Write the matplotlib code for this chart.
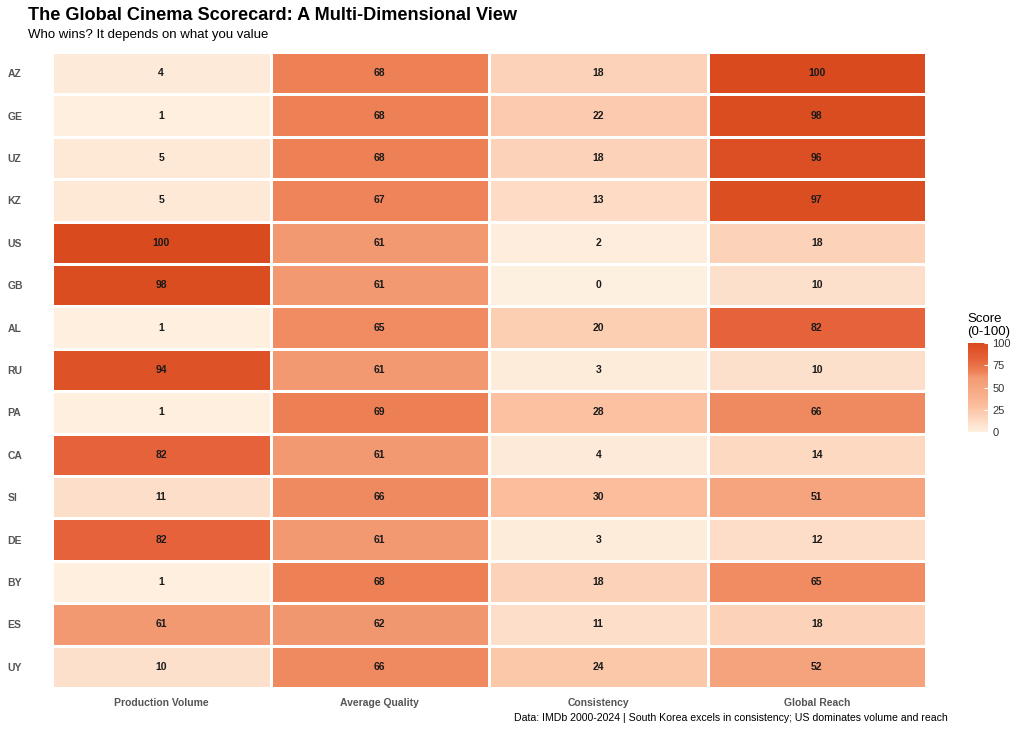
import numpy as np
import matplotlib.pyplot as plt
from matplotlib.colors import LinearSegmentedColormap

plt.rcParams['font.family'] = ['Liberation Sans', 'DejaVu Sans']

countries = ["AZ", "GE", "UZ", "KZ", "US", "GB", "AL", "RU", "PA", "CA", "SI", "DE", "BY", "ES", "UY"]
metrics = ["Production Volume", "Average Quality", "Consistency", "Global Reach"]
production = [4, 1, 5, 5, 100, 98, 1, 94, 1, 82, 11, 82, 1, 61, 10]
quality = [68, 68, 68, 67, 61, 61, 65, 61, 69, 61, 66, 61, 68, 62, 66]
consistency = [18, 22, 18, 13, 2, 0, 20, 3, 28, 4, 30, 3, 18, 11, 24]
reach = [100, 98, 96, 97, 18, 10, 82, 10, 66, 14, 51, 12, 65, 18, 52]

scores = np.array([production, quality, consistency, reach]).T

cmap = LinearSegmentedColormap.from_list("score", [
    (0.00, "#FEF0E0"), (0.10, "#FDE0CB"), (0.30, "#FBBD9C"), (0.51, "#F5A47E"),
    (0.61, "#F29A73"), (0.68, "#EE8156"), (0.82, "#E6623A"), (1.00, "#D94A1E")])

fig = plt.figure(figsize=(10.24, 7.31), dpi=100)
ax = fig.add_axes([52/1024, 1-688/731, (926-52)/1024, (688-52)/731])

n = len(countries)
m = ax.pcolormesh(np.arange(5), np.arange(n+1), scores, cmap=cmap, vmin=0, vmax=100,
                  edgecolors="white", linewidth=2)
ax.set_xlim(0, 4)
ax.set_ylim(n, 0)
for i in range(n):
    for j in range(4):
        ax.text(j+0.5, i+0.5, str(scores[i, j]), ha="center", va="center",
                fontsize=7.5, fontweight="bold", color="#1a1a1a")

ax.set_xticks(np.arange(4)+0.5)
ax.set_xticklabels(metrics, fontsize=7.5, fontweight="bold", color="#555555")
ax.set_yticks(np.arange(n)+0.5)
ax.set_yticklabels(countries, fontsize=7.5, fontweight="bold", color="#555555", ha="left")
ax.tick_params(axis="x", length=0, pad=7)
ax.tick_params(axis="y", length=0, pad=32)
for s in ax.spines.values():
    s.set_visible(False)

cax = fig.add_axes([968/1024, 1-432/731, 20/1024, 89/731])
cb = fig.colorbar(m, cax=cax, ticks=[0, 25, 50, 75, 100])
cb.outline.set_visible(False)
cb.ax.tick_params(length=3, color="white", labelsize=8, labelcolor="#333333", pad=3, direction="in")
fig.text(967/1024, 1-338/731, "Score\n(0-100)", fontsize=9.5, ha="left", va="bottom", linespacing=1.15)

fig.text(28/1024, 1-15/731, "The Global Cinema Scorecard: A Multi-Dimensional View",
         fontsize=13.1, fontweight="bold", va="center")
fig.text(28/1024, 1-35/731, "Who wins? It depends on what you value", fontsize=9.5, va="center")
fig.text(948/1024, 1-718/731,
         "Data: IMDb 2000-2024 | South Korea excels in consistency; US dominates volume and reach",
         fontsize=7.6, ha="right", va="center")

fig.savefig("out.png", dpi=100)
